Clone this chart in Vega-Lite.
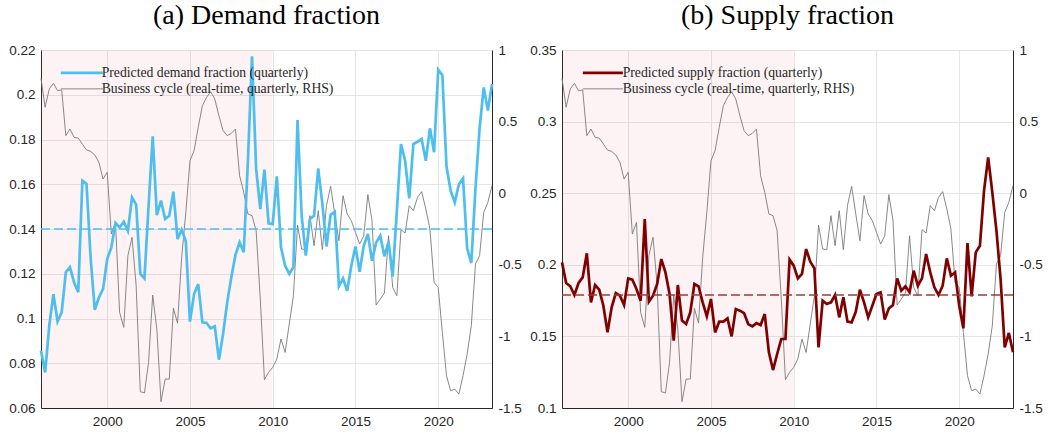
{
  "$schema": "https://vega.github.io/schema/vega-lite/v6.json",
  "padding": {"left": 8, "top": 2, "right": 4, "bottom": 4},
  "background": "white",
  "datasets": {
    "q": [
      {"t":1996,"d":0.0856,"s":0.2017,"c":0.802},{"t":1996.25,"d":0.0759,"s":0.1873,"c":0.600},{"t":1996.5,"d":0.0968,"s":0.185,"c":0.728},{"t":1996.75,"d":0.1109,"s":0.1789,"c":0.767},
      {"t":1997,"d":0.0986,"s":0.1873,"c":0.716},{"t":1997.25,"d":0.1027,"s":0.1912,"c":0.721},{"t":1997.5,"d":0.1206,"s":0.208,"c":0.402},{"t":1997.75,"d":0.1229,"s":0.1738,"c":0.448},
      {"t":1998,"d":0.1161,"s":0.1859,"c":0.390},{"t":1998.25,"d":0.1117,"s":0.1826,"c":0.385},{"t":1998.5,"d":0.1616,"s":0.1714,"c":0.343},{"t":1998.75,"d":0.1601,"s":0.1528,"c":0.302},
      {"t":1999,"d":0.127,"s":0.1703,"c":0.292},{"t":1999.25,"d":0.1039,"s":0.1803,"c":0.267},{"t":1999.5,"d":0.1094,"s":0.1784,"c":0.215},{"t":1999.75,"d":0.1132,"s":0.1719,"c":0.099},
      {"t":2000,"d":0.1266,"s":0.1905,"c":0.146},{"t":2000.25,"d":0.1318,"s":0.1896,"c":-0.285},{"t":2000.5,"d":0.1427,"s":0.1831,"c":-0.204},{"t":2000.75,"d":0.1407,"s":0.1749,"c":-0.832},
      {"t":2001,"d":0.1433,"s":0.232,"c":-0.937},{"t":2001.25,"d":0.1392,"s":0.1742,"c":-0.436},{"t":2001.5,"d":0.1541,"s":0.1784,"c":-0.308},{"t":2001.75,"d":0.1509,"s":0.1866,"c":-0.646},
      {"t":2002,"d":0.1199,"s":0.204,"c":-1.386},{"t":2002.25,"d":0.1179,"s":0.1947,"c":-1.395},{"t":2002.5,"d":0.1504,"s":0.1796,"c":-1.181},{"t":2002.75,"d":0.1814,"s":0.147,"c":-0.711},
      {"t":2003,"d":0.1462,"s":0.1859,"c":-0.949},{"t":2003.25,"d":0.1527,"s":0.161,"c":-1.456},{"t":2003.5,"d":0.1445,"s":0.1586,"c":-1.298},{"t":2003.75,"d":0.1459,"s":0.1668,"c":-1.298},
      {"t":2004,"d":0.1567,"s":0.1866,"c":-0.804},{"t":2004.25,"d":0.1355,"s":0.185,"c":-0.907},{"t":2004.5,"d":0.1397,"s":0.1738,"c":-0.448},{"t":2004.75,"d":0.1345,"s":0.164,"c":-0.134},
      {"t":2005,"d":0.0986,"s":0.1761,"c":0.227},{"t":2005.25,"d":0.1109,"s":0.1528,"c":0.297},{"t":2005.5,"d":0.1154,"s":0.1603,"c":0.46},{"t":2005.75,"d":0.0983,"s":0.1603,"c":0.611},
      {"t":2006,"d":0.098,"s":0.1626,"c":0.669},{"t":2006.25,"d":0.0956,"s":0.15,"c":0.709},{"t":2006.5,"d":0.0965,"s":0.1691,"c":0.658},{"t":2006.75,"d":0.0816,"s":0.168,"c":0.541},
      {"t":2007,"d":0.0931,"s":0.1663,"c":0.437},{"t":2007.25,"d":0.1072,"s":0.1586,"c":0.402},{"t":2007.5,"d":0.1184,"s":0.157,"c":0.418},{"t":2007.75,"d":0.1284,"s":0.1593,"c":0.448},
      {"t":2008,"d":0.134,"s":0.1579,"c":0.122},{"t":2008.25,"d":0.1296,"s":0.1656,"c":0.006},{"t":2008.5,"d":0.17,"s":0.1389,"c":-0.145},{"t":2008.75,"d":0.2172,"s":0.1265,"c":-0.157},
      {"t":2009,"d":0.1668,"s":0.1377,"c":-0.262},{"t":2009.25,"d":0.1489,"s":0.1482,"c":-0.739},{"t":2009.5,"d":0.1665,"s":0.1482,"c":-1.302},{"t":2009.75,"d":0.1425,"s":0.2036,"c":-1.251},
      {"t":2010,"d":0.1422,"s":0.1994,"c":-1.216},{"t":2010.25,"d":0.1635,"s":0.1905,"c":-1.158},{"t":2010.5,"d":0.1318,"s":0.1936,"c":-1.018},{"t":2010.75,"d":0.1236,"s":0.211,"c":-1.112},
      {"t":2011,"d":0.1199,"s":0.2022,"c":-0.914},{"t":2011.25,"d":0.1229,"s":0.1975,"c":-0.716},{"t":2011.5,"d":0.1887,"s":0.1423,"c":-0.222},{"t":2011.75,"d":0.1459,"s":0.1749,"c":-0.390},
      {"t":2012,"d":0.1281,"s":0.1726,"c":-0.394},{"t":2012.25,"d":0.1445,"s":0.1738,"c":-0.157},{"t":2012.5,"d":0.1459,"s":0.1789,"c":-0.367},{"t":2012.75,"d":0.1671,"s":0.1633,"c":-0.122},
      {"t":2013,"d":0.1512,"s":0.1773,"c":-0.394},{"t":2013.25,"d":0.1322,"s":0.1603,"c":-0.087},{"t":2013.5,"d":0.1464,"s":0.1598,"c":0.048},{"t":2013.75,"d":0.1477,"s":0.1672,"c":-0.145},
      {"t":2014,"d":0.1144,"s":0.1826,"c":-0.332},{"t":2014.25,"d":0.1179,"s":0.1738,"c":-0.017},{"t":2014.5,"d":0.1124,"s":0.1633,"c":-0.145},{"t":2014.75,"d":0.1236,"s":0.1714,"c":-0.192},
      {"t":2015,"d":0.1322,"s":0.1796,"c":-0.273},{"t":2015.25,"d":0.1209,"s":0.1808,"c":-0.355},{"t":2015.5,"d":0.1325,"s":0.1617,"c":-0.297},{"t":2015.75,"d":0.1378,"s":0.1696,"c":-0.010},
      {"t":2016,"d":0.1258,"s":0.1719,"c":-0.192},{"t":2016.25,"d":0.134,"s":0.1905,"c":-0.781},{"t":2016.5,"d":0.137,"s":0.1819,"c":-0.739},{"t":2016.75,"d":0.1278,"s":0.185,"c":-0.697},
      {"t":2017,"d":0.1343,"s":0.1808,"c":-0.297},{"t":2017.25,"d":0.1188,"s":0.1959,"c":-0.658},{"t":2017.5,"d":0.148,"s":0.1854,"c":-0.716},{"t":2017.75,"d":0.178,"s":0.1905,"c":-0.255},
      {"t":2018,"d":0.1705,"s":0.2075,"c":-0.278},{"t":2018.25,"d":0.1537,"s":0.1947,"c":-0.087},{"t":2018.5,"d":0.178,"s":0.1843,"c":-0.122},{"t":2018.75,"d":0.179,"s":0.1789,"c":-0.029},
      {"t":2019,"d":0.1802,"s":0.1854,"c":0.011},{"t":2019.25,"d":0.1705,"s":0.2045,"c":-0.110},{"t":2019.5,"d":0.185,"s":0.1924,"c":-0.250},{"t":2019.75,"d":0.1743,"s":0.1947,"c":-0.623},
      {"t":2020,"d":0.2112,"s":0.1714,"c":-0.658},{"t":2020.25,"d":0.2088,"s":0.1556,"c":-0.972},{"t":2020.5,"d":0.168,"s":0.2152,"c":-1.274},{"t":2020.75,"d":0.1571,"s":0.178,"c":-1.379},
      {"t":2021,"d":0.1519,"s":0.2087,"c":-1.368},{"t":2021.25,"d":0.16,"s":0.2133,"c":-1.403},{"t":2021.5,"d":0.1626,"s":0.2518,"c":-1.274},{"t":2021.75,"d":0.1313,"s":0.275,"c":-1.123},
      {"t":2022,"d":0.1248,"s":0.2506,"c":-0.925},{"t":2022.25,"d":0.158,"s":0.2238,"c":-0.495},{"t":2022.5,"d":0.185,"s":0.1901,"c":-0.436},{"t":2022.75,"d":0.2033,"s":0.1423,"c":-0.134},
      {"t":2023,"d":0.1929,"s":0.1524,"c":-0.064},{"t":2023.25,"d":0.2048,"s":0.1389,"c":0.053}
    ],
    "shade": [{"start": 1996, "end": 2010}]
  },
  "config": {
    "view": {"stroke": null},
    "axis": {
      "labelFont": "Liberation Sans", "labelFontSize": 13.5, "labelColor": "#262626",
      "domainColor": "#262626", "tickColor": "#262626", "gridColor": "#e6e6e6",
      "title": null, "ticks": false, "labelPadding": 6
    },
    "title": {"font": "Liberation Serif", "fontSize": 28, "fontWeight": "normal", "color": "#000000", "offset": 13, "anchor": "middle"},
    "legend": {"labelFont": "Liberation Serif", "labelFontSize": 13.7, "labelColor": "#262626", "labelLimit": 400}
  },
  "resolve": {"scale": {"color": "independent"}, "legend": {"color": "independent"}},
  "spacing": 7,
  "hconcat": [
    {
      "width": 451, "height": 358,
      "title": {"text": "(a) Demand fraction"},
      "layer": [
        {
          "data": {"name": "shade"},
          "mark": {"type": "rect", "color": "#e05060", "opacity": 0.065},
          "encoding": {
            "x": {"field": "start", "type": "quantitative", "scale": {"domain": [1996, 2023.25], "nice": false, "zero": false},
                  "axis": {"values": [2000, 2005, 2010, 2015, 2020], "format": "d", "grid": true}},
            "x2": {"field": "end"}
          }
        },
        {
          "data": {"name": "q"},
          "mark": {"type": "line", "strokeWidth": 0.9},
          "encoding": {
            "x": {"field": "t", "type": "quantitative", "scale": {"domain": [1996, 2023.25], "nice": false, "zero": false}},
            "y": {"field": "c", "type": "quantitative", "scale": {"domain": [-1.5, 1], "nice": false, "zero": false},
                  "axis": {"orient": "right", "values": [-1.5, -1, -0.5, 0, 0.5, 1], "grid": false, "labelExpr": "'' + datum.value"}},
            "color": {"datum": "Business cycle (real-time, quarterly, RHS)"}
          }
        },
        {
          "layer": [
            {
              "data": {"name": "q"},
              "mark": {"type": "line", "strokeWidth": 2.7},
              "encoding": {
                "x": {"field": "t", "type": "quantitative", "scale": {"domain": [1996, 2023.25], "nice": false, "zero": false}},
                "y": {"field": "d", "type": "quantitative", "scale": {"domain": [0.06, 0.22], "nice": false, "zero": false},
                      "axis": {"orient": "left", "values": [0.06, 0.08, 0.1, 0.12, 0.14, 0.16, 0.18, 0.2, 0.22], "grid": true, "labelExpr": "'' + datum.value"}},
                "color": {
                  "datum": "Predicted demand fraction (quarterly)",
                  "scale": {"domain": ["Predicted demand fraction (quarterly)", "Business cycle (real-time, quarterly, RHS)"], "range": ["#4DBEEE", "#7a7a7a"]},
                  "legend": {"orient": "none", "legendX": 34, "legendY": 16, "title": null, "symbolType": "stroke", "symbolSize": 1764, "rowPadding": 1, "labelOffset": 13, "padding": 0,
                             "encode": {"symbols": {"update": {"strokeWidth": {"signal": "datum.index === 0 ? 2.7 : 0.9"}}}}}
                }
              }
            },
            {
              "data": {"values": [{"m": 0.14}]},
              "mark": {"type": "rule", "color": "#4DBEEE", "strokeDash": [9, 4], "strokeWidth": 1.3},
              "encoding": {"y": {"field": "m", "type": "quantitative"}}
            }
          ]
        }
      ],
      "resolve": {"scale": {"y": "independent"}}
    },
    {
      "width": 451, "height": 358,
      "title": {"text": "(b) Supply fraction"},
      "layer": [
        {
          "data": {"name": "shade"},
          "mark": {"type": "rect", "color": "#e05060", "opacity": 0.065},
          "encoding": {
            "x": {"field": "start", "type": "quantitative", "scale": {"domain": [1996, 2023.25], "nice": false, "zero": false},
                  "axis": {"values": [2000, 2005, 2010, 2015, 2020], "format": "d", "grid": true}},
            "x2": {"field": "end"}
          }
        },
        {
          "data": {"name": "q"},
          "mark": {"type": "line", "strokeWidth": 0.9},
          "encoding": {
            "x": {"field": "t", "type": "quantitative", "scale": {"domain": [1996, 2023.25], "nice": false, "zero": false}},
            "y": {"field": "c", "type": "quantitative", "scale": {"domain": [-1.5, 1], "nice": false, "zero": false},
                  "axis": {"orient": "right", "values": [-1.5, -1, -0.5, 0, 0.5, 1], "grid": false, "labelExpr": "'' + datum.value"}},
            "color": {"datum": "Business cycle (real-time, quarterly, RHS)"}
          }
        },
        {
          "layer": [
            {
              "data": {"name": "q"},
              "mark": {"type": "line", "strokeWidth": 2.7},
              "encoding": {
                "x": {"field": "t", "type": "quantitative", "scale": {"domain": [1996, 2023.25], "nice": false, "zero": false}},
                "y": {"field": "s", "type": "quantitative", "scale": {"domain": [0.1, 0.35], "nice": false, "zero": false},
                      "axis": {"orient": "left", "values": [0.1, 0.15, 0.2, 0.25, 0.3, 0.35], "grid": true, "labelExpr": "'' + datum.value"}},
                "color": {
                  "datum": "Predicted supply fraction (quarterly)",
                  "scale": {"domain": ["Predicted supply fraction (quarterly)", "Business cycle (real-time, quarterly, RHS)"], "range": ["#800000", "#7a7a7a"]},
                  "legend": {"orient": "none", "legendX": 34, "legendY": 16, "title": null, "symbolType": "stroke", "symbolSize": 1600, "rowPadding": 1, "labelOffset": 13, "padding": 0,
                             "encode": {"symbols": {"update": {"strokeWidth": {"signal": "datum.index === 0 ? 2.7 : 0.9"}}}}}
                }
              }
            },
            {
              "data": {"values": [{"m": 0.1789}]},
              "mark": {"type": "rule", "color": "#a03a3a", "strokeDash": [9, 4], "strokeWidth": 1.3},
              "encoding": {"y": {"field": "m", "type": "quantitative"}}
            }
          ]
        }
      ],
      "resolve": {"scale": {"y": "independent"}}
    }
  ]
}
